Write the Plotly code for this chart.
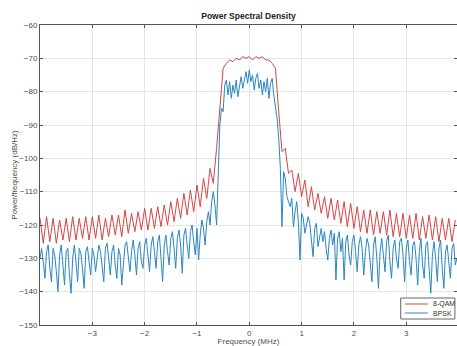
import plotly.graph_objects as go

# ---- data (frequency in MHz, PSD in dB/Hz) ----
qam_f0 = -4.0
qam_step = 0.0625
psd_8qam = [
    -118, -125.5, -117.5, -125, -118, -125.5, -118.5, -124.5, -118, -125, -117.5, -124.5, -118, -124, -117.5, -124.5,
    -117.5, -124, -117, -124.5, -118, -123.5, -117, -123, -117, -123.5, -115.5, -122.5, -116.5, -122, -116, -121.5,
    -115, -121.5, -115, -121, -114.5, -120.5, -114, -120, -113, -119, -112, -118, -110.5, -117, -109.5, -116,
    -108, -114.5, -106, -112, -103, -107.5, -97, -86, -73, -71.5, -70.5, -71, -70, -70.5, -69.5, -70,
    -69.5, -70.5, -69.5, -70, -69.5, -70.5, -70.5, -71.5, -73, -86, -98, -97, -104.5, -103.5, -110, -104.5,
    -111.5, -106.5, -114.5, -108.5, -115.5, -110.5, -116.5, -111.5, -118, -112, -118.5, -112.5, -119.5, -113, -120.5, -113.5,
    -121, -114.5, -122, -115.5, -122.5, -115.5, -123, -116, -122.5, -116, -123, -115.5, -123.5, -116.5, -123.5, -116.5,
    -124, -117, -124, -116.5, -124.5, -117.5, -124, -117, -124.5, -117.5, -125, -118, -124.5, -118, -125, -118.5,
]

bpsk_f0 = -4.0
bpsk_step = 0.03125
psd_bpsk = [
    -130, -127, -131, -136, -128, -126, -133, -137, -127, -129, -134, -140, -129, -126, -132, -138,
    -128, -127, -135, -140.5, -130, -126, -131, -137, -127, -128.5, -133, -139, -128, -126.5, -131, -135,
    -127, -129, -134, -130, -126, -128, -133, -137, -127, -125.5, -130, -135, -128, -126, -132, -136,
    -127, -129, -138, -131, -126, -125, -130, -134, -128, -124.5, -129, -135, -127, -125, -131, -133,
    -126, -124, -129, -134, -126, -123.5, -128, -133, -125, -123, -130, -137, -126, -123, -128, -132,
    -124, -122, -127, -133, -124, -121.5, -126, -134.5, -123, -121, -126, -130, -122, -120, -125, -129,
    -121, -130.5, -123, -118.5, -121, -126, -119, -116, -120, -113, -110, -114, -120, -103, -90, -85,
    -86, -78, -76.5, -81, -77, -82, -78, -80.5, -76.5, -81.5, -78, -75.5, -79, -76, -74, -77.5,
    -73.5, -77, -75, -79.5, -76, -74.5, -79, -76.5, -81, -77, -80, -76, -82, -77.5, -76, -81,
    -84, -88, -94, -103, -120.5, -104, -106, -111.5, -113, -114.5, -112, -120.5, -116, -113, -119, -130.5,
    -116.5, -118, -122.5, -120, -117.5, -119.5, -124, -129.5, -121, -119.5, -126.5, -123, -121, -125, -122, -127,
    -130.5, -124, -121.5, -126, -122.5, -136.5, -124, -122, -128, -124, -136.5, -125, -123, -129, -132, -125,
    -123, -128, -134, -126, -123.5, -127, -135, -128, -124, -126, -132, -137, -126, -123.5, -130, -139,
    -128, -124, -129, -134, -125, -123, -131, -136, -127, -124.5, -130, -133, -125, -124, -129, -137,
    -127, -124.5, -131, -135, -126, -125, -130, -138, -128, -124, -132, -136, -126, -125, -133, -140.5,
    -129, -125, -130, -137, -127, -124.5, -133, -139, -128, -126, -131, -136, -127, -125.5, -132, -130,
]

series_names = ["8-QAM", "BPSK"]
series_colors = ["#d64545", "#2a86c3"]
x_ticks = [-3, -2, -1, 0, 1, 2, 3]
y_ticks = [-150, -140, -130, -120, -110, -100, -90, -80, -70, -60]

freq_8qam = [qam_f0 + qam_step * i for i in range(len(psd_8qam))]
freq_bpsk = [bpsk_f0 + bpsk_step * i for i in range(len(psd_bpsk))]

FONT = "Liberation Sans, Arial, sans-serif"

fig = go.Figure()
fig.add_trace(go.Scatter(x=freq_8qam, y=psd_8qam, mode="lines", name=series_names[0],
                         line=dict(color=series_colors[0], width=1)))
fig.add_trace(go.Scatter(x=freq_bpsk, y=psd_bpsk, mode="lines", name=series_names[1],
                         line=dict(color=series_colors[1], width=1)))

# compact MATLAB-style legend box (lower right)
lg_x0, lg_x1, lg_y0, lg_y1 = 0.865, 0.995, 0.02, 0.09
fig.add_shape(type="rect", xref="paper", yref="paper", x0=lg_x0, x1=lg_x1, y0=lg_y0, y1=lg_y1,
              line=dict(color="#666666", width=1), fillcolor="white", layer="above")
for k, (name, col) in enumerate(zip(series_names, series_colors)):
    yy = 0.07 - 0.03 * k
    fig.add_shape(type="line", xref="paper", yref="paper", x0=0.875, x1=0.930, y0=yy, y1=yy,
                  line=dict(color=col, width=1), layer="above")
    fig.add_annotation(x=0.937, y=yy, xref="paper", yref="paper", text=name, showarrow=False,
                       xanchor="left", yanchor="middle", font=dict(size=7, color="#333333"))

fig.update_layout(
    width=457, height=346,
    margin=dict(l=40, r=0, t=25, b=21, pad=0),
    paper_bgcolor="white", plot_bgcolor="white",
    font=dict(family=FONT, size=8, color="#4d4d4d"),
    title=dict(text="<b>Power Spectral Density</b>", x=0.5, xref="paper", y=1, yref="container",
               yanchor="top", pad=dict(t=13), font=dict(size=8.5, color="#222222")),
    showlegend=False,
)
fig.update_xaxes(range=[-4, 3.97], tickvals=x_ticks, ticks="inside", ticklen=3,
                 tickcolor="#555555", showline=True, linecolor="#555555", linewidth=1,
                 mirror="ticks", showgrid=True, gridcolor="#e6e6e6", gridwidth=1,
                 zeroline=False, automargin=False,
                 title=dict(text="Frequency (MHz)", standoff=2, font=dict(size=8)))
fig.update_yaxes(range=[-150, -60], tickvals=y_ticks, ticks="inside", ticklen=3,
                 tickcolor="#555555", showline=True, linecolor="#555555", linewidth=1,
                 mirror="ticks", showgrid=True, gridcolor="#e6e6e6", gridwidth=1,
                 zeroline=False, automargin=False,
                 title=dict(text="Power/frequency (dB/Hz)", standoff=0, font=dict(size=8)))

fig.write_html("out.html", config={"displayModeBar": False},
               post_script="document.body.style.margin='0';")
